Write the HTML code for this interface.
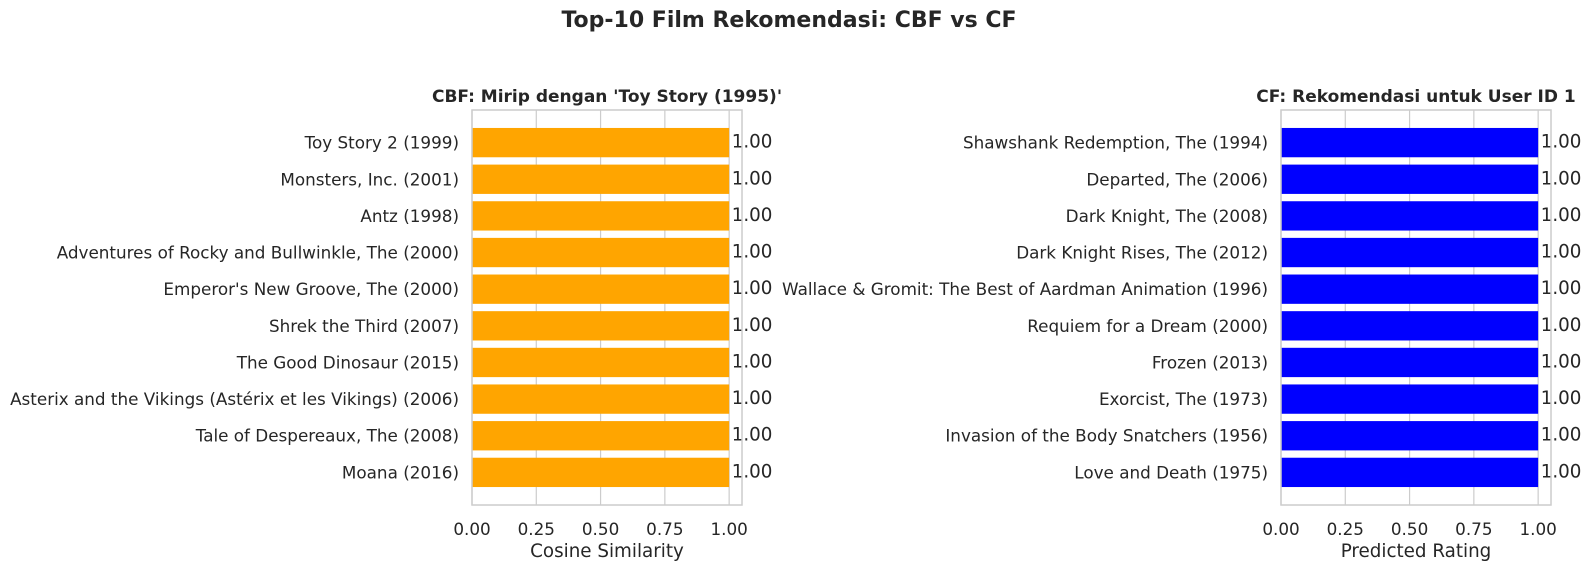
<!DOCTYPE html>
<html><head><meta charset="utf-8"><style>
body{margin:0;background:#fff}
svg text{font-family:"DejaVu Sans","Liberation Sans",sans-serif;fill:#262626}
</style></head><body>
<svg id="chart" width="1591" height="570" xmlns="http://www.w3.org/2000/svg">
<text x="789" y="27" text-anchor="middle" font-size="22" font-weight="bold">Top-10 Film Rekomendasi: CBF vs CF</text>
<g id="g"></g>
</svg>
<script>
const cbfTitles=["Toy Story 2 (1999)","Monsters, Inc. (2001)","Antz (1998)","Adventures of Rocky and Bullwinkle, The (2000)","Emperor's New Groove, The (2000)","Shrek the Third (2007)","The Good Dinosaur (2015)","Asterix and the Vikings (Astérix et les Vikings) (2006)","Tale of Despereaux, The (2008)","Moana (2016)"];
const cbfValues=[1,1,1,1,1,1,1,1,1,1];
const cfTitles=["Shawshank Redemption, The (1994)","Departed, The (2006)","Dark Knight, The (2008)","Dark Knight Rises, The (2012)","Wallace & Gromit: The Best of Aardman Animation (1996)","Requiem for a Dream (2000)","Frozen (2013)","Exorcist, The (1973)","Invasion of the Body Snatchers (1956)","Love and Death (1975)"];
const cfValues=[1,1,1,1,1,1,1,1,1,1];
const xTicks=[0,0.25,0.5,0.75,1.0];
const NS="http://www.w3.org/2000/svg";
const g=document.getElementById('g');
function mk(t,a,txt){const e=document.createElementNS(NS,t);for(const k in a)e.setAttribute(k,a[k]);if(txt!==undefined)e.textContent=txt;g.appendChild(e);return e;}
function panel(prefix,x0,x1,titles,values,color,title,xlabel){
  const top=110,bot=505;
  const maxV=Math.max(...values,0);
  const xmax=maxV*1.05||1.05;
  const xs=v=>x0+(v/xmax)*(x1-x0);
  const n=titles.length;
  const lo=-0.4,hi=n-1+0.4,pad=(hi-lo)*0.05;
  const ys=i=>top+(i-(lo-pad))/((hi+pad)-(lo-pad))*(bot-top);
  const unit=ys(1)-ys(0);
  xTicks.forEach(t=>{
    let l=mk('line',{x1:xs(t),x2:xs(t),y1:top,y2:bot,stroke:'#cccccc','stroke-width':1.2});
    
    
    let tx=mk('text',{x:xs(t),y:bot+30,'text-anchor':'middle','font-size':16.8},t.toFixed(2));
    
    
  });
  titles.forEach((name,i)=>{
    const y=ys(i),h=unit*0.8;
    let r=mk('rect',{x:xs(0),y:y-h/2,width:xs(values[i])-xs(0),height:h,fill:color});
    
    
    let lb=mk('text',{x:x0-13,y:y+6,'text-anchor':'end','font-size':16.8},name);
    
    
    let v=mk('text',{x:xs(values[i]+0.01),y:y+5,'font-size':18.3},values[i].toFixed(2));
    
    
  });
  let f=mk('rect',{x:x0,y:top,width:x1-x0,height:bot-top,fill:'none',stroke:'#cccccc','stroke-width':1.5});
  
  
  let t=mk('text',{x:(x0+x1)/2,y:102,'text-anchor':'middle','font-size':17,'font-weight':'bold'},title);
  
  
  let xl=mk('text',{x:(x0+x1)/2,y:557,'text-anchor':'middle','font-size':18.3},xlabel);
  
  
}
panel('cbf',472,742,cbfTitles,cbfValues,'#ffa500',"CBF: Mirip dengan 'Toy Story (1995)'",'Cosine Similarity');
panel('cf',1281,1551,cfTitles,cfValues,'#0000ff','CF: Rekomendasi untuk User ID 1','Predicted Rating');
</script>
</body></html>
